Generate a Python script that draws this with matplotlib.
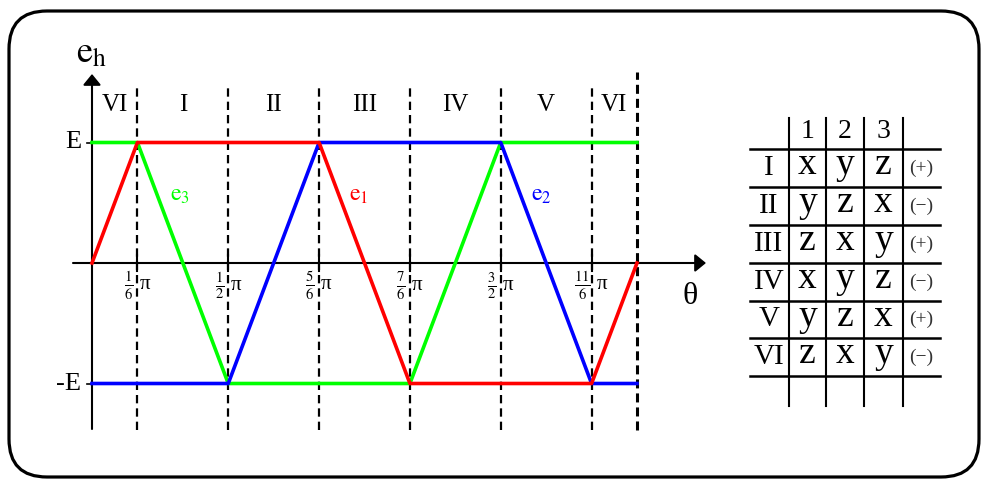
import matplotlib
matplotlib.use("Agg")
import matplotlib.pyplot as plt
from matplotlib.patches import FancyBboxPatch

plt.rcParams['font.family'] = 'serif'
plt.rcParams['font.serif'] = ['Liberation Serif', 'DejaVu Serif']
plt.rcParams['mathtext.fontset'] = 'stix'
plt.rcParams['lines.scale_dashes'] = False

# ---- waveform data (theta in units of pi, voltage in units of E) ----
theta = [0, 1/6, 1/2, 5/6, 7/6, 3/2, 11/6, 2]
e1 = [0, 1, 1, 1, -1, -1, -1, 0]
e2 = [-1, -1, -1, 1, 1, 1, -1, -1]
e3 = [1, 1, -1, -1, -1, 1, 1, 1]

boundaries = [1/6, 1/2, 5/6, 7/6, 3/2, 11/6]
tick_labels = [r'$\frac{1}{6}$ π', r'$\frac{1}{2}$ π', r'$\frac{5}{6}$ π',
               r'$\frac{7}{6}$ π', r'$\frac{3}{2}$ π', r'$\frac{11}{6}$ π']
sectors = ['VI', 'I', 'II', 'III', 'IV', 'V', 'VI']
sector_edges = [0, 1/6, 1/2, 5/6, 7/6, 3/2, 11/6, 2]

# ---- switching table ----
row_labels = ['I', 'II', 'III', 'IV', 'V', 'VI']
col_labels = ['1', '2', '3']
cells = [['x', 'y', 'z'],
         ['y', 'z', 'x'],
         ['z', 'x', 'y'],
         ['x', 'y', 'z'],
         ['y', 'z', 'x'],
         ['z', 'x', 'y']]
signs = ['(+)', '(−)', '(+)', '(−)', '(+)', '(−)']

W, H = 981, 480
fig = plt.figure(figsize=(W / 100, H / 100), dpi=100)

# overlay in pixel coordinates for frame and table
ov = fig.add_axes([0, 0, 1, 1])
ov.set_xlim(0, W)
ov.set_ylim(H, 0)
ov.axis('off')
frame = FancyBboxPatch((9, 11), 970, 466,
                       boxstyle='round,pad=0,rounding_size=38',
                       fill=False, ec='black', lw=2.3)
ov.add_patch(frame)

# ---- main chart axes ----
x0, px_per_pi = 92, 272.5
y0, px_per_E = 263, 120.5
L, R, T, B = 30, 730, 30, 450
ax = fig.add_axes([L / W, (H - B) / H, (R - L) / W, (B - T) / H])
ax.set_xlim((L - x0) / px_per_pi, (R - x0) / px_per_pi)
ax.set_ylim((y0 - B) / px_per_E, (y0 - T) / px_per_E)
ax.axis('off')


def vy(py):
    return (y0 - py) / px_per_E


def vx(px):
    return (px - x0) / px_per_pi


# dashed sector boundaries
for b in boundaries:
    ax.plot([b, b], [vy(430), vy(88)], color='black', lw=1.6,
            dashes=(6.0, 3.6), zorder=1)
ax.plot([2, 2], [vy(430), vy(72)], color='black', lw=2.2,
        dashes=(6.5, 3.6), zorder=1)

# axes with arrows
arrow = dict(arrowstyle='-|>,head_length=0.33,head_width=0.27',
             lw=1.5, color='black', mutation_scale=20,
             shrinkA=0, shrinkB=0)
ax.annotate('', xy=(vx(706), 0), xytext=(vx(73), 0), arrowprops=arrow,
            annotation_clip=False, zorder=2)
ax.annotate('', xy=(0, vy(74)), xytext=(0, vy(429)), arrowprops=arrow,
            annotation_clip=False, zorder=2)

# ticks on the theta axis
for b in boundaries:
    ax.plot([b, b], [vy(255), vy(271)], color='black', lw=1.5, zorder=2)
# ticks for +E / -E
for v in (1, -1):
    ax.plot([vx(87), 0], [v, v], color='black', lw=1.2, zorder=2)

# waveforms
ax.plot(theta, e3, color='#00ff00', lw=2.6, zorder=3)
ax.plot(theta, e2, color='#0000ff', lw=2.6, zorder=4)
ax.plot(theta, e1, color='#ff0000', lw=2.6, zorder=5)

# curve labels
ax.text(vx(180), vy(195), r'$\mathrm{e}_3$', color='#00ff00', fontsize=17,
        ha='center', va='center')
ax.text(vx(359), vy(195), r'$\mathrm{e}_1$', color='#ff0000', fontsize=17,
        ha='center', va='center')
ax.text(vx(541), vy(195), r'$\mathrm{e}_2$', color='#0000ff', fontsize=17,
        ha='center', va='center')

# tick labels
for b, lab in zip(boundaries, tick_labels):
    ax.text(b, vy(286), lab, fontsize=15, ha='center', va='center')

# axis labels
ax.text(vx(690), vy(297), 'θ', fontsize=23, ha='center', va='center')
ax.text(vx(91), vy(54), r'$\mathrm{e}_\mathrm{h}$', fontsize=26,
        ha='center', va='center')
ax.text(vx(81), 1, 'E', fontsize=19, ha='right', va='center')
ax.text(vx(81), -1, '-E', fontsize=19, ha='right', va='center')

# sector labels
for name, a, b in zip(sectors, sector_edges[:-1], sector_edges[1:]):
    ax.text((a + b) / 2, vy(105), name, fontsize=18, ha='center',
            va='center')

# ---- table drawing ----
col_x = [789, 826, 864, 903]
row_y = [149, 187, 225, 263, 301, 338, 376]
for xv in col_x:
    ov.plot([xv, xv], [118, 406], color='black', lw=1.5)
for yv in row_y:
    ov.plot([750, 940], [yv, yv], color='black', lw=1.8)

cell_x = [(col_x[i] + col_x[i + 1]) / 2 for i in range(3)]
for cx, lab in zip(cell_x, col_labels):
    ov.text(cx, 131, lab, fontsize=20, ha='center', va='center')
for i, rl in enumerate(row_labels):
    cy = (row_y[i] + row_y[i + 1]) / 2
    ov.text(769, cy, rl, fontsize=21, ha='center', va='center')
    for cx, letter in zip(cell_x, cells[i]):
        ov.text(cx, cy - 3, letter, fontsize=27, ha='center', va='center')
    ov.text(921, cy, signs[i], fontsize=14, ha='center', va='center',
            color='#333333')

fig.savefig('out.png', dpi=100)
